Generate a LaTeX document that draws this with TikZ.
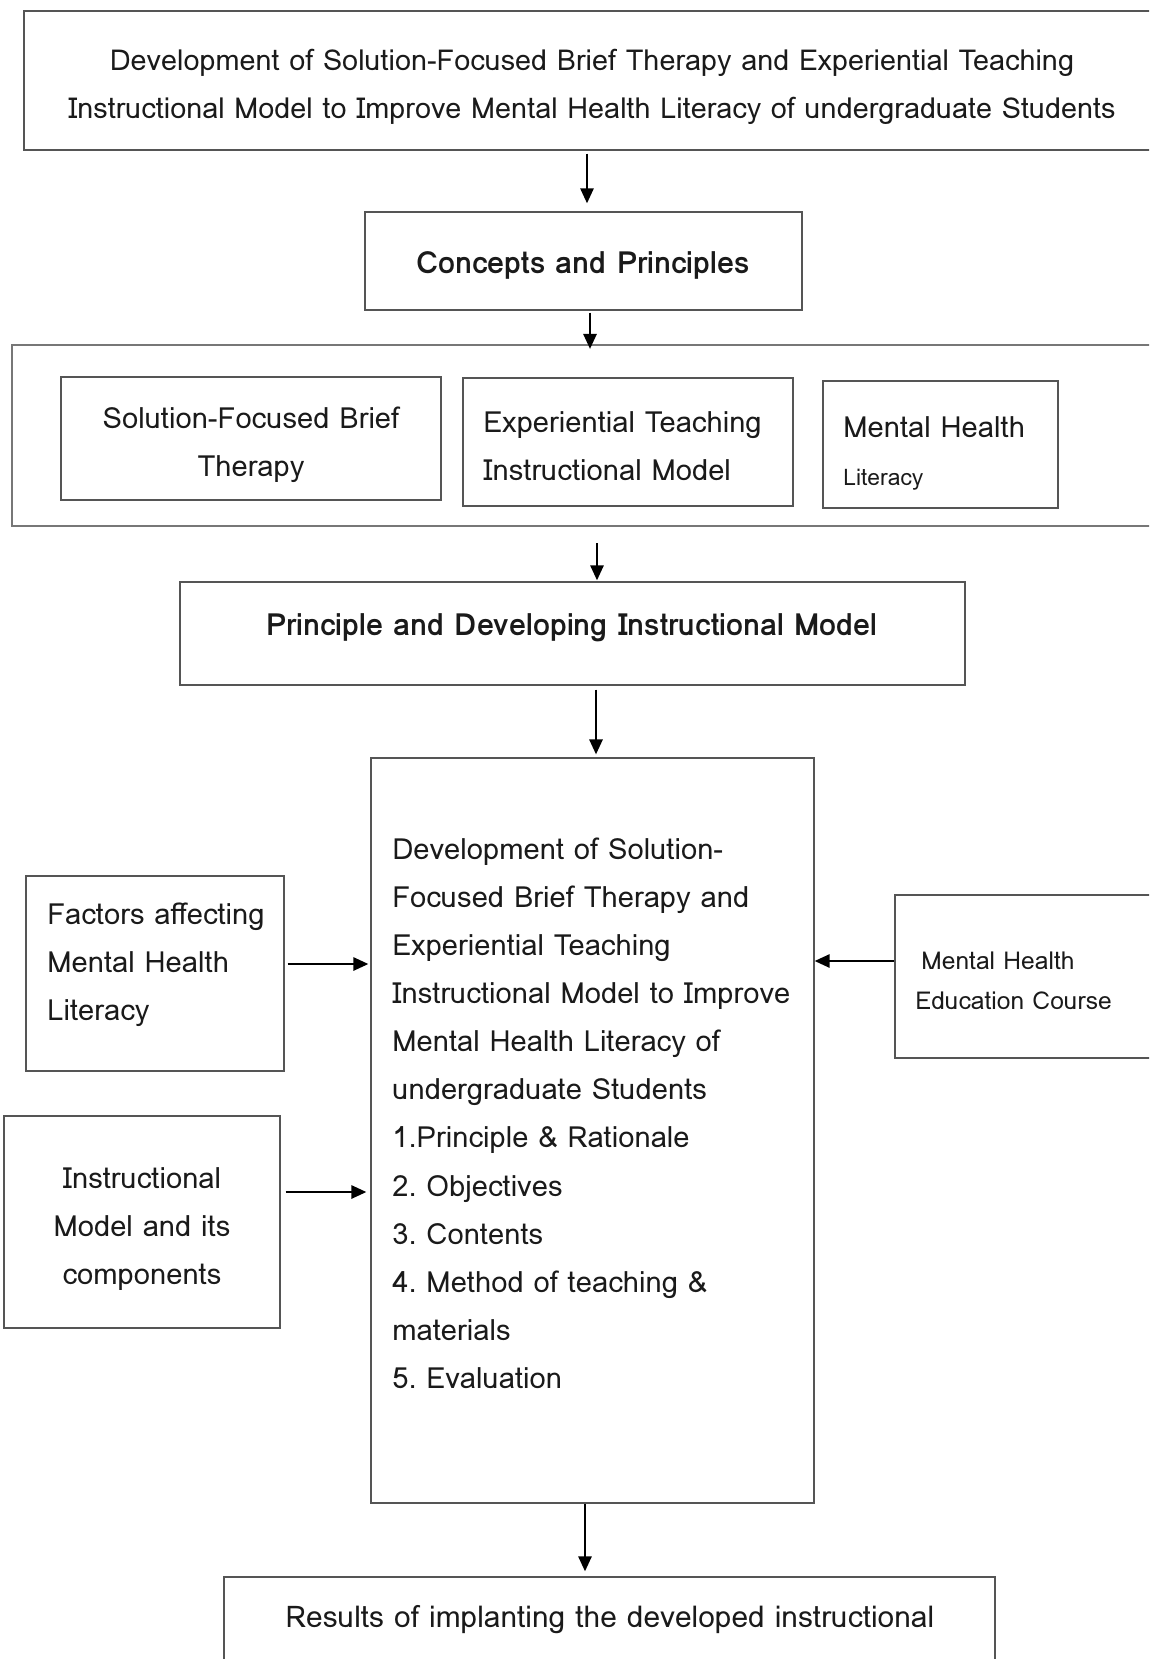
\documentclass[tikz,border=0pt]{standalone}
\usepackage{fontspec}
\setmainfont{Loma}
\usetikzlibrary{arrows.meta}
\frenchspacing
\definecolor{boxgray}{HTML}{555555}
\definecolor{framegray}{HTML}{777777}
\definecolor{ink}{HTML}{1A1A1A}
\tikzset{
  box/.style={draw=boxgray, line width=0.7pt, inner sep=0pt},
  frame/.style={draw=framegray, line width=1.2pt, inner sep=0pt},
  body/.style={inner sep=0pt, text=ink, font=\fontsize{16.6pt}{27.4pt}\selectfont},
  small/.style={inner sep=0pt, text=ink, font=\fontsize{14pt}{23.3pt}\selectfont},
  heading/.style={inner sep=0pt, text=ink, font=\fontsize{17.4pt}{27.4pt}\selectfont\bfseries},
  arr/.style={-{Triangle[length=0.3cm,width=0.26cm]}, line width=1.5pt, black},
}
\begin{document}
\begin{tikzpicture}[x=0.02cm,y=-0.02cm]
\useasboundingbox (0,0) rectangle (1149,1659);
\clip (0,0) rectangle (1149,1659);

% title box
\node[box, minimum width=22.82cm, minimum height=2.78cm] (top) at (594.5,80.5) {};
\node[body, anchor=north, align=center, font=\fontsize{16.4pt}{27.4pt}\selectfont] (top-t) at (592,36)
  {\strut Development of Solution-Focused Brief Therapy and Experiential Teaching\\
   Instructional Model to Improve Mental Health Literacy of undergraduate Students};

% concepts and principles
\node[box, minimum width=8.74cm, minimum height=1.96cm] (concepts) at (583.5,261) {};
\node[heading, anchor=base] (concepts-t) at (583,274) {Concepts and Principles};

% frame holding the three concepts
\node[frame, minimum width=23.16cm, minimum height=3.62cm] (frame) at (591,435.5) {};
\node[box, minimum width=7.6cm, minimum height=2.46cm] (sfbt) at (251,438.5) {};
\node[body, anchor=north, align=center] (sfbt-t) at (251,394)
  {\strut Solution-Focused Brief\\ Therapy};
\node[box, minimum width=6.6cm, minimum height=2.56cm] (etim) at (628,442) {};
\node[body, anchor=north west, align=left] (etim-t) at (483,398)
  {\strut Experiential Teaching\\ Instructional Model};
\node[box, minimum width=4.7cm, minimum height=2.54cm] (mhl) at (940.5,444.5) {};
\node[body, anchor=north west, align=left] (mhl-t) at (843,403)
  {\strut Mental Health\\ {\fontsize{13pt}{27.4pt}\selectfont Literacy}};

% principle and developing instructional model
\node[box, minimum width=15.7cm, minimum height=2.06cm] (principle) at (572.5,633.5) {};
\node[heading, anchor=base] (principle-t) at (572,635) {Principle and Developing Instructional Model};

% the instructional model
\node[box, minimum width=8.86cm, minimum height=14.9cm] (model) at (592.5,1130.5) {};
\node[body, anchor=north west, align=left] (model-t) at (392,825)
  {\strut Development of Solution-\\
   Focused Brief Therapy and\\
   Experiential Teaching\\
   Instructional Model to Improve\\
   Mental Health Literacy of\\
   undergraduate Students\\
   1.Principle \& Rationale\\
   2. Objectives\\
   3. Contents\\
   4. Method of teaching \&\\
   materials\\
   5. Evaluation};

% inputs on the left
\node[box, minimum width=5.16cm, minimum height=3.9cm] (factors) at (155,973.5) {};
\node[body, anchor=north west, align=left] (factors-t) at (47,890)
  {\strut Factors affecting\\ Mental Health\\ Literacy};
\node[box, minimum width=5.52cm, minimum height=4.24cm] (instr) at (142,1222) {};
\node[body, anchor=north, align=center] (instr-t) at (142,1154)
  {\strut Instructional\\ Model and its\\ components};

% input on the right
\node[box, minimum width=5.5cm, minimum height=3.26cm] (course) at (1032.5,976.5) {};
\node[small, anchor=north west, align=left] (course-t) at (915,940)
  {\strut\hspace{0.12cm}Mental Health\\ Education Course};

% results
\node[box, minimum width=15.42cm, minimum height=2.46cm] (results) at (609.5,1638.5) {};
\node[body, anchor=base, font=\fontsize{17pt}{27.4pt}\selectfont] (results-t) at (610,1627) {Results of implanting the developed instructional};

% connectors
\coordinate (x1) at (587,0);
\coordinate (x2) at (590,0);
\coordinate (x3) at (597,0);
\coordinate (x4) at (596,0);
\coordinate (x5) at (585,0);
\coordinate (yF) at (0,964);
\coordinate (yI) at (0,1192);
\coordinate (yM) at (0,961);
\draw[arr, shorten <=0.06cm, shorten >=0.16cm] (top.south -| x1) -- (concepts.north -| x1);
\draw[arr, shorten <=0.04cm, shorten >=-0.1cm] (concepts.south -| x2) -- (frame.north -| x2);
\draw[arr, shorten <=0.32cm, shorten >=0.02cm] (frame.south -| x3) -- (principle.north -| x3);
\draw[arr, shorten <=0.08cm, shorten >=0.06cm] (principle.south -| x4) -- (model.north -| x4);
\draw[arr, shorten <=0.06cm, shorten >=0.04cm] (factors.east |- yF) -- (model.west |- yF);
\draw[arr, shorten <=0.1cm, shorten >=0.08cm] (instr.east |- yI) -- (model.west |- yI);
\draw[arr] (course.west |- yM) -- (model.east |- yM);
\draw[arr, shorten >=0.1cm] (model.south -| x5) -- (results.north -| x5);
\end{tikzpicture}
\end{document}
